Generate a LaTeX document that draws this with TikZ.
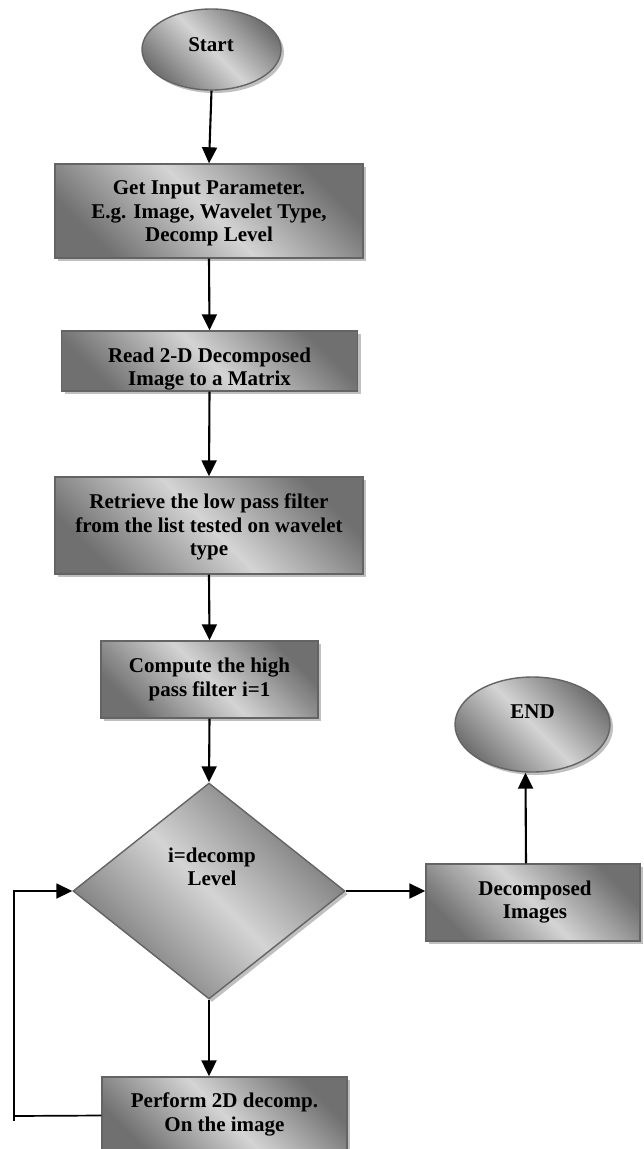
\documentclass[tikz,border=0pt]{standalone}
\usepackage{fontspec}
\setmainfont{Liberation Serif}
\usetikzlibrary{shapes.geometric,arrows.meta,shadows}
\definecolor{darkc}{RGB}{112,112,112}
\definecolor{lightc}{RGB}{212,212,212}
\definecolor{edgec}{RGB}{100,100,100}
\definecolor{shadc}{RGB}{192,192,192}
\tikzset{
  shadedshape/.style={draw=edgec, line width=1.4pt, inner sep=0pt,
    top color=darkc, bottom color=darkc, middle color=lightc, shading angle=-45,
    drop shadow={shadow xshift=3pt, shadow yshift=-3pt, fill=shadc, opacity=1}},
  box/.style={shadedshape, rectangle},
  oval/.style={shadedshape, ellipse},
  decision/.style={shadedshape, diamond},
  txt/.style={font=\bfseries\fontsize{21}{23.5}\selectfont, align=center, inner sep=0pt, anchor=north},
  arr/.style={draw=black, line width=2.1pt, -{Triangle[length=16pt,width=15pt]}},
  plainline/.style={draw=black, line width=1.7pt}
}
\begin{document}
\begin{tikzpicture}[x=1pt,y=-1pt]
\useasboundingbox (0,0) rectangle (644,1149);
% shapes
\node[oval, minimum width=139pt, minimum height=81pt] (start) at (211.5,49.5) {};
\node[txt] (tstart) at (211,37.7) {Start};
\node[box, minimum width=308pt, minimum height=94pt] (b1) at (209,211) {};
\node[txt] (t1) at (209,180.7) {Get Input Parameter.\\E.g. Image, Wavelet Type,\\Decomp Level};
\node[box, minimum width=296pt, minimum height=60pt] (b2) at (209.5,361) {};
\node[txt] (t2) at (209.5,347.7) {Read 2-D Decomposed\\Image to a Matrix};
\node[box, minimum width=308pt, minimum height=97pt] (b3) at (209,525.5) {};
\node[txt] (t3) at (209,493.7) {Retrieve the low pass filter\\from the list tested on wavelet\\type};
\node[box, minimum width=217pt, minimum height=77pt] (b4) at (209.5,679.5) {};
\node[txt] (t4) at (209.5,658.2) {Compute the high\\pass filter i=1};
\node[decision, minimum width=272pt, minimum height=216pt] (dia) at (209,891) {};
\node[txt] (tdia) at (212,847.7) {i=decomp\\Level};
\node[box, minimum width=214pt, minimum height=77pt] (dec) at (533,902.5) {};
\node[txt] (tdec) at (535,880.7) {Decomposed\\Images};
\node[oval, minimum width=155pt, minimum height=95pt] (endn) at (532.5,724.5) {};
\node[txt] (tend) at (532.5,704.7) {END};
\node[box, minimum width=245pt, minimum height=77pt] (perf) at (224.5,1115.5) {};
\node[txt] (tperf) at (224.5,1092.7) {Perform 2D decomp.\\On the image};
% loop coordinates
\coordinate (c0) at (14,1121);
\coordinate (c1) at (14,1116);
% connectors
\draw[arr] (start.south) -- (b1.north);
\draw[arr] (b1.south) -- (b2.north);
\draw[arr] (b2.south) -- (b3.north);
\draw[arr] (b3.south) -- (b4.north);
\draw[arr] (b4.south) -- (dia.north);
\draw[arr] (dia.east) -- (dia.east -| dec.west);
\draw[arr] ([xshift=-7pt]dec.north) -- ([xshift=-7pt]endn.south);
\draw[arr] (dia.south) -- (dia.south |- perf.north);
\draw[plainline] (perf.west) -- (c1);
\draw[arr, line width=1.7pt] (c0) |- (dia.west);
\end{tikzpicture}
\end{document}
